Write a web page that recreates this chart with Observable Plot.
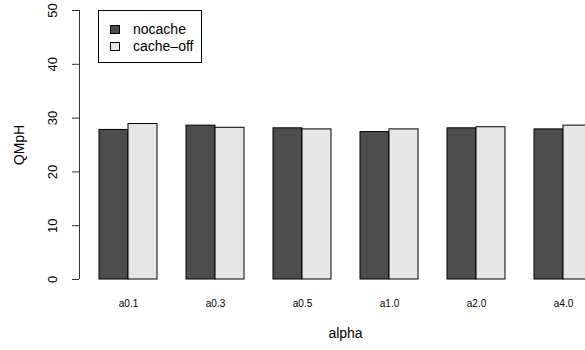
<!DOCTYPE html>
<html><head><meta charset="utf-8">
<script src="https://cdn.jsdelivr.net/npm/d3@7"></script>
<script src="https://cdn.jsdelivr.net/npm/@observablehq/plot@0.6"></script>
<style>
body{margin:0;background:#fff;overflow:hidden;font-family:"Liberation Sans",Arial,sans-serif}
#wrap{position:relative;width:585px;height:350px;overflow:hidden}
#legend{position:absolute;left:98px;top:10px;width:102px;height:51px;border:1px solid #000;background:#fff;font-size:14px;color:#000}
.item{position:absolute;left:11px;height:16px;line-height:16px;white-space:nowrap}
.sw{display:inline-block;width:8px;height:7px;border:1px solid #000;vertical-align:middle;margin-right:13px;position:relative;top:-1px}
</style>
</head><body><div id="wrap"></div>
<script>
const categories = ["a0.1","a0.3","a0.5","a1.0","a2.0","a4.0"];
const seriesNames = ["nocache","cache\u2013off"];
const nocache = [27.8, 28.6, 28.1, 27.4, 28.1, 27.9];
const cacheOff = [28.9, 28.2, 27.9, 27.9, 28.3, 28.6];
const yTicks = [0,10,20,30,40,50];
const colors = ["#4d4d4d","#e6e6e6"];

const rowsA = categories.map((c,i)=>({alpha:c, series:seriesNames[0], v:nocache[i]}));
const rowsB = categories.map((c,i)=>({alpha:c, series:seriesNames[1], v:cacheOff[i]}));

const plot = Plot.plot({
  width: 585, height: 350,
  marginLeft: 79, marginRight: 0, marginTop: 10, marginBottom: 71,
  style: {fontFamily: "Liberation Sans, Arial, sans-serif", background: "#fff", color: "#000"},
  x: {domain: categories, range: [84.5, 606.5], paddingInner: 1/3, paddingOuter: 1/6, axis: null},
  y: {domain: [0, 50]},
  color: {domain: seriesNames, range: colors},
  marks: [
    Plot.barY(rowsA, {x: "alpha", y: "v", fill: "series", stroke: "#000", strokeWidth: 1, insetRight: 29, insetLeft: 0}),
    Plot.barY(rowsB, {x: "alpha", y: "v", fill: "series", stroke: "#000", strokeWidth: 1, insetLeft: 29, insetRight: 0}),
    Plot.axisY(yTicks, {anchor: "left", tickSize: 7, tickFormat: () => "", label: null, stroke: "#333"}),
    Plot.text(yTicks, {y: d => d, text: d => String(d), frameAnchor: "left", textAnchor: "middle", rotate: -90, dx: -26.5, fontSize: 13, fill: "#000"}),
    Plot.text(["QMpH"], {frameAnchor: "left", textAnchor: "middle", dx: -60, rotate: -90, fontSize: 14, fill: "#000"}),
    Plot.text(categories, {x: d => d, frameAnchor: "bottom", dy: 27, fontSize: 10, fill: "#000"}),
    Plot.text(["alpha"], {frameAnchor: "bottom", dx: 13, dy: 58, fontSize: 14, fill: "#000"})
  ]
});

const ys = plot.scale("y");
d3.select(plot).append("line")
  .attr("x1", 79.5).attr("x2", 79.5)
  .attr("y1", ys.apply(0)).attr("y2", ys.apply(50))
  .attr("stroke", "#333");

const wrap = document.getElementById("wrap");
wrap.appendChild(plot);

const legend = document.createElement("div");
legend.id = "legend";
seriesNames.forEach((s, i) => {
  const it = document.createElement("div");
  it.className = "item";
  it.style.top = (10 + i * 17) + "px";
  const sw = document.createElement("span");
  sw.className = "sw";
  sw.style.background = colors[i];
  it.appendChild(sw);
  it.appendChild(document.createTextNode(s));
  legend.appendChild(it);
});
wrap.appendChild(legend);
</script>
</body></html>
